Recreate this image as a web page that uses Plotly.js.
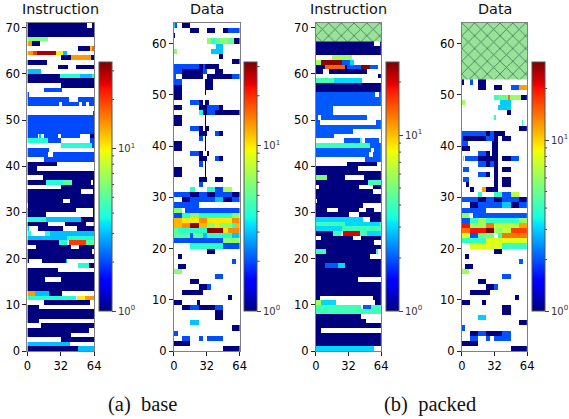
<!DOCTYPE html>
<html><head><meta charset="utf-8">
<script src="https://cdn.plot.ly/plotly-3.0.1.min.js"></script>
<style>html,body{margin:0;padding:0;background:#fff}#c{width:569px;height:419px}</style>
</head><body><div id="c"></div>
<script>
// Cell value classes (a = 1 ... o = 30)
const levels = {a:1,b:2,c:3,d:4,e:5,f:6,g:7,h:8,i:10,j:12,k:14,l:17,m:20,n:25,o:30};

// Rows listed top row first; each run is start:end + value class, gaps are empty cells.
const baseInstruction = [
"0:57a 62:64a","0:64a","0:64a","0:20f","0:4k 4:12a","48:60a 60:62j 62:64l",
"0:5k 5:9m 9:27o 27:34i 34:38c","32:42a 42:61k 61:64a","0:19a","29:39a 46:64a","0:13c",
"0:31a 31:50d 50:62c 62:64d","0:64a","32:64a","16:33b","0:2b","0:40b 48:64b",
"0:30b 33:49b 52:56b 59:64b","","63:64b","0:64b","0:64b","0:64b","0:64b",
"0:10b 11:13c 16:29b 32:50b 60:64a","0:20d 20:32b 60:64b","32:62d 62:64b","0:21b",
"0:20b 24:64b","16:64b","0:28a","0:9a","0:64a","15:64a",
"0:18a 18:34d 34:43e 43:61a 63:64a","32:64a","0:51a 63:64a","0:64a","0:34a 41:64a",
"1:64a","0:46a 63:64a","0:18a 63:64a","0:18d 18:51c 51:64a","0:20a 36:56a 63:64d",
"0:2c 10:34a 47:64a","0:3d 17:22d 22:64c","0:38c 38:64d","0:30a 30:38d 40:56m 56:64e",
"8:42a 49:64a","0:62a","0:64a","0:2a 14:37a 37:38c","48:59d 59:64a","0:29a","0:64a",
"0:17a 32:64a","0:64a","0:64a","0:7k 7:21c 21:33a","0:46d 47:55i 55:64k","16:60a",
"0:11a","0:64a","0:64a","0:11a","13:64a","0:59a","0:42a","32:64a","0:41c","0:48a 48:64c"];

const baseData = [
"0:1c 1:3b 8:16a","16:24a 32:40a 48:52a 52:64b","0:1a","32:36f 36:40d 40:45e 45:52f 52:58e 58:64a",
"41:48c","0:3f 36:48c","44:48a","56:64a","0:24b 24:28a 28:30b 30:44a",
"0:8b 8:28a 28:32b 40:48a","0:2b 8:28a 32:56a 56:64b","0:8b 30:38a","0:8a 30:38a","0:8a 30:31a",
"0:8a","16:24b 24:28a 30:34a","0:8a 24:32a 32:44b 44:48a","24:28d 28:32a 32:40b 40:64a",
"0:8a 30:31a","0:8a 30:31a","16:24b 24:28a 30:34a","24:32a 40:44b 44:48a","24:28b 30:31a",
"0:8a 30:31a","0:8a 30:31a","16:24b 24:28a 32:34a","24:32a 40:44b 44:48a","24:28b 30:31a",
"0:8a 30:31a","0:8a 30:31a","24:32a 40:44a 44:48a","24:28b",
"16:20d 32:40d 40:48b 48:56g","0:16b 16:24a 24:32b 32:40a 40:56b 56:64a",
"8:16a 16:40b 40:48c 48:56a 56:64b","0:24b","0:8f 11:64b","0:8b 8:16d 16:24f 24:56d 56:64f",
"0:8j 8:24i 24:32k 32:56i 56:64k","0:8j 8:16k 16:24o 24:32j 32:40f 40:44i 44:56f 56:60d 60:64j",
"0:4e 4:32d 32:48o 48:52i 52:64k","0:16e 16:19b 19:28e 28:32c 32:56d 56:64c","0:48b 48:64f",
"16:48d 48:64b","32:40a","4:8a","56:60b","4:12a","0:8f","40:48b","16:24a","24:32a 32:36b",
"8:28a","52:56a","0:8a 22:25a","8:16a 16:24b 24:40a 40:48b","40:48a","40:48a","16:24c",
"56:64a","0:4b","8:16b 24:28b 32:48b","0:16a","48:64a"];

const packedInstruction = [
"","","","","0:57a 63:64a","0:64a","0:64a","16:36f","0:5f 5:26n 26:34b 34:38c",
"0:9a 9:29k 29:31a 31:44b 44:53n 53:61b","0:7a 13:50a","61:64a","0:18d 18:45c","0:64a","0:64a",
"0:58b 62:64b","0:64b","0:64b","0:17b","0:17b","0:2b 5:50b","0:4b 59:64b","0:64b","0:37b",
"0:18b","28:43b 43:45d 48:62b","0:53d 53:64b","0:54b 57:64b","0:52b 56:64b","48:64b",
"31:60a","0:41a","0:64a","0:11e 11:29a 47:64a","0:51a 51:64d","3:42a 56:64a","0:56a",
"0:64a","1:64a","0:46a","0:11a 22:42a 49:57a","0:33a 42:64a","0:46c 53:64a",
"0:29d 29:63c 63:64d","0:26c 26:64d","0:17a 17:25d 27:43m 43:50d 50:64c","5:37a 44:64a",
"0:57a","0:64a","0:10d 10:59a 59:61d","0:53a","0:64a","0:9a 9:22b 22:29c 29:64a","0:64a",
"0:64a","0:41a","0:64a","0:64a","0:64a","0:4a 56:64a","0:5f 5:20c 58:64a",
"0:44d 46:54b 54:64d","0:64d","0:44a","0:49a","0:64a","0:5a","0:64a","0:64a","0:64a","0:57c"];

const packedData = [
"","","","","","","","","","","","0:2a 8:11b 16:24a","16:24a 32:40a 48:56b 56:64j","",
"32:36d 36:45e 45:47k 47:58f 58:64a","0:3f 38:48c","36:48c","44:48a","32:34d","59:60d","56:64a",
"0:24b 24:28a 28:32b 32:42a","0:1b 1:24a 24:32b 32:36a 40:48a","0:6b 30:36a","0:8a 30:36a",
"16:24b 24:28a 30:36a","1:2d 3:16b 16:36a 40:48a 48:56b","16:24b 24:28a 28:32b 32:36a",
"1:7b 32:36a 40:48a","16:24b 24:28a 32:36a","1:7b 32:36a 40:48a","4:7a 32:36a 40:48a",
"8:12a 20:24j 24:36a","16:20d 32:40d 40:48b 48:56g","0:16b 16:24a 24:32b 32:40a 40:56b 56:64a",
"8:16a 16:40b 40:48c 48:56a 56:64b","0:24b","0:7f 11:64b","0:8b 8:16d 16:24f 24:56d 56:64f",
"0:8m 8:24f 24:32k 32:56g 56:64j","0:8k 8:24m 24:32o 32:40f 40:48g 48:64l",
"0:8h 8:16b 16:32e 36:40d 40:64k","0:24d 24:64h","8:40h 40:64d","32:40a","3:7a","56:60b",
"3:11a","0:7f","40:48b","16:24a","24:32a 32:36b","8:28a","52:56a","0:8a 20:24a","40:48a",
"40:48a","16:24c","56:64a","0:3b","8:16a 16:24b 24:40a 40:48b","8:16b 24:28b 32:48b","0:16a","48:64a"];

const titles = ["Instruction","Data","Instruction","Data"];
const captions = ["(a)\u00a0\u00a0base","(b)\u00a0\u00a0packed"];
const panelRows = [baseInstruction, baseData, packedInstruction, packedData];
const rowCounts = [71, 64, 71, 64];
const scaleMax = [34, 32, 26, 28.6];
const hatchFrom = [null, null, 67, 53];
const xTicks = [0, 32, 64];
const yTickSets = [[0,10,20,30,40,50,60,70],[0,10,20,30,40,50,60]];
const barMajorValues = [1, 10];
const barMajorLabels = ["10<sup>0</sup>","10<sup>1</sup>"];
const barMinorValues = [2,3,4,5,6,7,8,9,20,30];

// Layout in window pixels
const W = 569, H = 419;
const axisLeft = [27.5, 174.5, 317, 463.5];
const axisRight = [94.5, 240.5, 382.5, 529];
const barLeft = [99, 245, 387, 533.5];
const barWidth = 13;
const axisTop = 23, axisBottom = 351, barTop = 62, barBottom = 311;

const jet = [[0,"rgb(0,0,127)"],[0.11,"rgb(0,0,255)"],[0.125,"rgb(0,0,255)"],[0.34,"rgb(0,219,255)"],
[0.35,"rgb(0,229,247)"],[0.375,"rgb(20,255,226)"],[0.64,"rgb(238,255,8)"],[0.65,"rgb(247,246,0)"],
[0.66,"rgb(255,236,0)"],[0.89,"rgb(255,19,0)"],[0.91,"rgb(232,0,0)"],[1,"rgb(127,0,0)"]];

function toGrid(rows, n) {
  const grid = [];
  for (let r = 0; r < n; r++) grid.push(new Array(64).fill(null));
  rows.forEach((row, i) => {
    if (!row) return;
    row.split(" ").forEach(run => {
      const m = run.match(/^(\d+):(\d+)([a-o])$/);
      for (let c = +m[1]; c < +m[2]; c++) grid[n - 1 - i][c] = Math.log10(levels[m[3]]);
    });
  });
  return grid;
}
const seq = n => Array.from({length:n}, (_, i) => i + 0.5);

const traces = [], layout = {
  width: W, height: H, margin: {l:0,r:0,t:0,b:0}, showlegend: false,
  paper_bgcolor: "#fff", plot_bgcolor: "#fff",
  font: {family: "DejaVu Sans", color: "#000", size: 12},
  annotations: [], shapes: []
};

panelRows.forEach((rows, p) => {
  const k = p + 1, n = rowCounts[p], topLog = Math.log10(scaleMax[p]);
  traces.push({
    type: "heatmap", x: seq(64), y: seq(n), z: toGrid(rows, n),
    xaxis: "x" + k, yaxis: "y" + k, colorscale: jet, zmin: 0, zmax: topLog,
    hoverongaps: false,
    colorbar: {
      x: barLeft[p] / W, xanchor: "left", xref: "paper", xpad: 0, ypad: 0,
      y: (H - barBottom) / H, yanchor: "bottom", yref: "paper",
      len: (barBottom - barTop) / H, lenmode: "fraction",
      thickness: barWidth, thicknessmode: "pixels",
      outlinecolor: "#555", outlinewidth: 1, borderwidth: 0,
      tickmode: "array", tickvals: barMajorValues.map(Math.log10), ticktext: barMajorLabels,
      ticks: "outside", ticklen: 4, tickwidth: 1, tickcolor: "#444",
      tickfont: {family: "DejaVu Sans", size: 10, color: "#333"}
    }
  });
  // colour-bar minor ticks, placed through the same log scale as the bar
  barMinorValues.filter(v => v <= scaleMax[p]).forEach(v => {
    const yp = ((H - barBottom) + (Math.log10(v) / topLog) * (barBottom - barTop)) / H;
    const x0 = (barLeft[p] + barWidth) / W;
    layout.shapes.push({type: "line", xref: "paper", yref: "paper", x0: x0, x1: x0 + 2.5 / W,
      y0: yp, y1: yp, line: {color: "#444", width: 1}});
  });
  if (hatchFrom[p] !== null) {
    traces.push({
      type: "bar", x: [32], y: [n - hatchFrom[p]], base: [hatchFrom[p]], width: [64],
      xaxis: "x" + k, yaxis: "y" + k, hoverinfo: "skip",
      marker: {color: "#98e29b", line: {width: 0},
        pattern: {shape: "x", size: 9, solidity: 0.16, fgcolor: "#3d6e48", bgcolor: "#98e29b"}}
    });
  }
  const suffix = k === 1 ? "" : k;
  layout["xaxis" + suffix] = {
    domain: [axisLeft[p] / W, axisRight[p] / W], anchor: "y" + k, range: [0, 64], fixedrange: true,
    tickmode: "array", tickvals: xTicks, ticks: "outside", ticklen: 4, tickcolor: "#222",
    showgrid: false, zeroline: false, showline: true, mirror: true, linecolor: "#808080", linewidth: 1,
    tickfont: {size: 11.5}
  };
  layout["yaxis" + suffix] = {
    domain: [(H - axisBottom) / H, (H - axisTop) / H], anchor: "x" + k, range: [0, n], fixedrange: true,
    tickmode: "array", tickvals: yTickSets[n === 71 ? 0 : 1], ticks: "outside", ticklen: 4, tickcolor: "#222",
    showgrid: false, zeroline: false, showline: true, mirror: true, linecolor: "#808080", linewidth: 1,
    tickfont: {size: 11.5}
  };
  layout.annotations.push({
    text: titles[p], xref: "paper", yref: "paper", showarrow: false,
    x: (axisLeft[p] + axisRight[p]) / 2 / W, y: (H - 19) / H, xanchor: "center", yanchor: "bottom",
    font: {family: "DejaVu Sans", size: 14.4, color: "#111"}
  });
});
[143, 432].forEach((cx, i) => layout.annotations.push({
  text: captions[i], xref: "paper", yref: "paper", showarrow: false,
  x: cx / W, y: (H - 404) / H, xanchor: "center", yanchor: "middle",
  font: {family: "Liberation Serif", size: 20.5, color: "#111"}
}));

Plotly.newPlot("c", traces, layout, {displayModeBar: false, staticPlot: true});
</script>
</body></html>
